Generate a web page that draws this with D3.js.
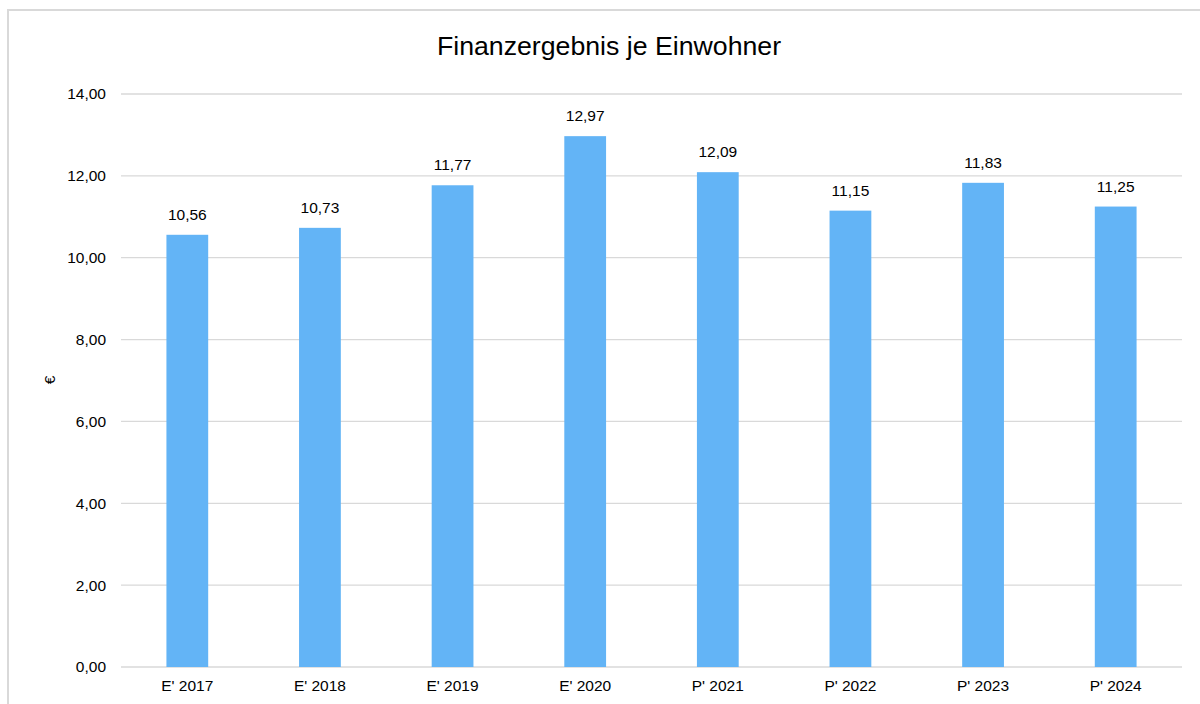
<!DOCTYPE html>
<html>
<head>
<meta charset="utf-8">
<style>
  body { margin: 0; background: #fff; font-family: "Liberation Sans", Arial, sans-serif; }
  svg text { fill: #000; }
</style>
<script src="https://cdn.jsdelivr.net/npm/d3@7"></script>
</head>
<body>
<script>
// chart data
var categories = ["E' 2017", "E' 2018", "E' 2019", "E' 2020", "P' 2021", "P' 2022", "P' 2023", "P' 2024"];
var values = [10.56, 10.73, 11.77, 12.97, 12.09, 11.15, 11.83, 11.25];
var yTicks = [0, 2, 4, 6, 8, 10, 12, 14];

var W = 1200, H = 704;
var margin = {top: 94, right: 18, bottom: 37, left: 121};
var fs = 15.5;

var svg = d3.select("body").append("svg")
  .attr("width", W)
  .attr("height", H);

// outer frame
svg.append("rect")
  .attr("x", 8).attr("y", 10)
  .attr("width", W + 20).attr("height", H + 20)
  .attr("fill", "none")
  .attr("stroke", "#d9d9d9")
  .attr("stroke-width", 2);

var x = d3.scaleBand()
  .domain(categories)
  .range([margin.left, W - margin.right])
  .paddingInner(0.685)
  .paddingOuter(0.3425);

var y = d3.scaleLinear()
  .domain([0, 14])
  .range([H - margin.bottom, margin.top]);

var fmt = function(v) { return d3.format(".2f")(v).replace(".", ","); };

// gridlines
svg.append("g").selectAll("line")
  .data(yTicks).enter().append("line")
  .attr("x1", margin.left).attr("x2", W - margin.right)
  .attr("y1", d => y(d)).attr("y2", d => y(d))
  .attr("stroke", "#d9d9d9")
  .attr("stroke-width", 1.3);

// y axis labels
var yAxis = d3.axisLeft(y).tickValues(yTicks).tickFormat(fmt).tickSize(0).tickPadding(15);
svg.append("g")
  .attr("transform", "translate(" + (margin.left) + ",0)")
  .call(yAxis)
  .call(g => g.select(".domain").remove())
  .selectAll("text")
  .attr("font-size", fs)
  .attr("font-family", "Liberation Sans, Arial, sans-serif")
  .attr("fill", "#000");

// bars
svg.append("g").selectAll("rect")
  .data(values).enter().append("rect")
  .attr("x", (d, i) => x(categories[i]))
  .attr("y", d => y(d))
  .attr("width", x.bandwidth())
  .attr("height", d => y(0) - y(d))
  .attr("fill", "#63b4f6");

// data labels
svg.append("g").selectAll("text")
  .data(values).enter().append("text")
  .attr("x", (d, i) => x(categories[i]) + x.bandwidth() / 2)
  .attr("y", d => y(d) - 15)
  .attr("text-anchor", "middle")
  .attr("font-size", fs)
  .text(d => fmt(d));

// x axis labels
var xAxis = d3.axisBottom(x).tickSize(0).tickPadding(13);
svg.append("g")
  .attr("transform", "translate(0," + y(0) + ")")
  .call(xAxis)
  .call(g => g.select(".domain").remove())
  .selectAll("text")
  .attr("font-size", fs)
  .attr("font-family", "Liberation Sans, Arial, sans-serif")
  .attr("fill", "#000");

// title
svg.append("text")
  .attr("x", 609).attr("y", 55)
  .attr("text-anchor", "middle")
  .attr("font-size", 26.7)
  .text("Finanzergebnis je Einwohner");

// y axis title
svg.append("text")
  .attr("transform", "translate(55,380) rotate(-90)")
  .attr("text-anchor", "middle")
  .attr("font-size", fs)
  .text("€");
</script>
</body>
</html>
